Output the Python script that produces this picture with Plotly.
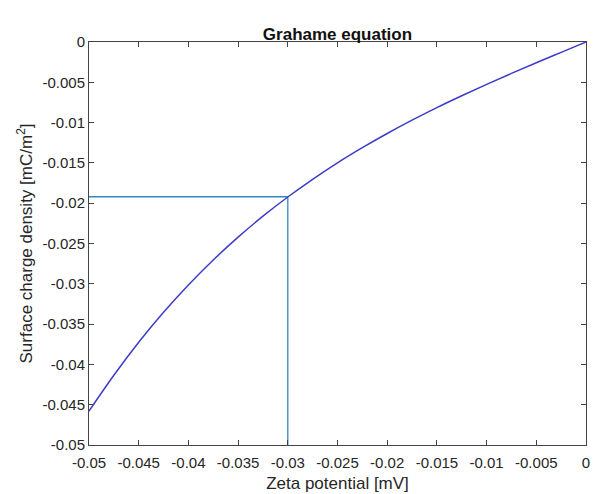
import plotly.graph_objects as go

# Data
zeta = [-0.05, -0.0475, -0.045, -0.0425, -0.04, -0.0375, -0.035, -0.0325, -0.03,
        -0.0275, -0.025, -0.0225, -0.02, -0.0175, -0.015, -0.0125, -0.01,
        -0.0075, -0.005, -0.0025, 0.0]
sigma = [-0.0458, -0.04135, -0.03726, -0.03354, -0.03015, -0.02705, -0.02421,
         -0.02161, -0.01923, -0.01703, -0.01499, -0.01311, -0.01135, -0.0097,
         -0.00814, -0.00667, -0.00526, -0.0039, -0.00258, -0.00128, 0.0]
zeta_mark = -0.03
sigma_mark = -0.0192
x_min, x_max = -0.05, 0.0
y_min, y_max = -0.05, 0.0

x_ticks = [-0.05, -0.045, -0.04, -0.035, -0.03, -0.025, -0.02, -0.015, -0.01, -0.005, 0]
x_tick_text = ["-0.05", "-0.045", "-0.04", "-0.035", "-0.03", "-0.025", "-0.02",
               "-0.015", "-0.01", "-0.005", "0"]
y_ticks = x_ticks
y_tick_text = x_tick_text

font_family = "Liberation Sans, Arial, sans-serif"
axis_color = "#444444"
text_color = "#262626"

fig = go.Figure()
fig.add_trace(go.Scatter(x=[x_min, zeta_mark], y=[sigma_mark, sigma_mark], mode="lines",
                         line=dict(color="#2f8ac2", width=1.3), showlegend=False))
fig.add_trace(go.Scatter(x=[zeta_mark, zeta_mark], y=[y_min, sigma_mark], mode="lines",
                         line=dict(color="#2f8ac2", width=1.3), showlegend=False))
fig.add_trace(go.Scatter(x=zeta, y=sigma, mode="lines", line_shape="spline",
                         line=dict(color="#3c3cc8", width=1.5), showlegend=False))

axis_common = dict(
    showgrid=False, zeroline=False, showline=True, linecolor=axis_color, linewidth=1,
    mirror="ticks", ticks="inside", ticklen=5, tickcolor=axis_color, tickwidth=1,
    tickfont=dict(family=font_family, size=15, color=text_color), automargin=False,
)

fig.update_layout(
    width=613, height=494,
    margin=dict(l=89, r=27, t=42, b=49),
    paper_bgcolor="white", plot_bgcolor="white",
    title=dict(text="<b>Grahame equation</b>", x=0.5, xanchor="center", xref="paper",
               y=1, yref="paper", yanchor="bottom", pad=dict(b=2),
               font=dict(family=font_family, size=17, color="#111111")),
    xaxis=dict(range=[x_min, x_max], tickvals=x_ticks, ticktext=x_tick_text,
               ticklabelstandoff=4,
               title=dict(text="Zeta potential [mV]", standoff=7,
                          font=dict(family=font_family, size=17, color=text_color)),
               **axis_common),
    yaxis=dict(range=[y_min, y_max], tickvals=y_ticks, ticktext=y_tick_text,
               title=dict(text="Surface charge density [mC/m<sup>2</sup>]", standoff=5,
                          font=dict(family=font_family, size=17, color=text_color)),
               **axis_common),
)

fig.write_html("out.html")
